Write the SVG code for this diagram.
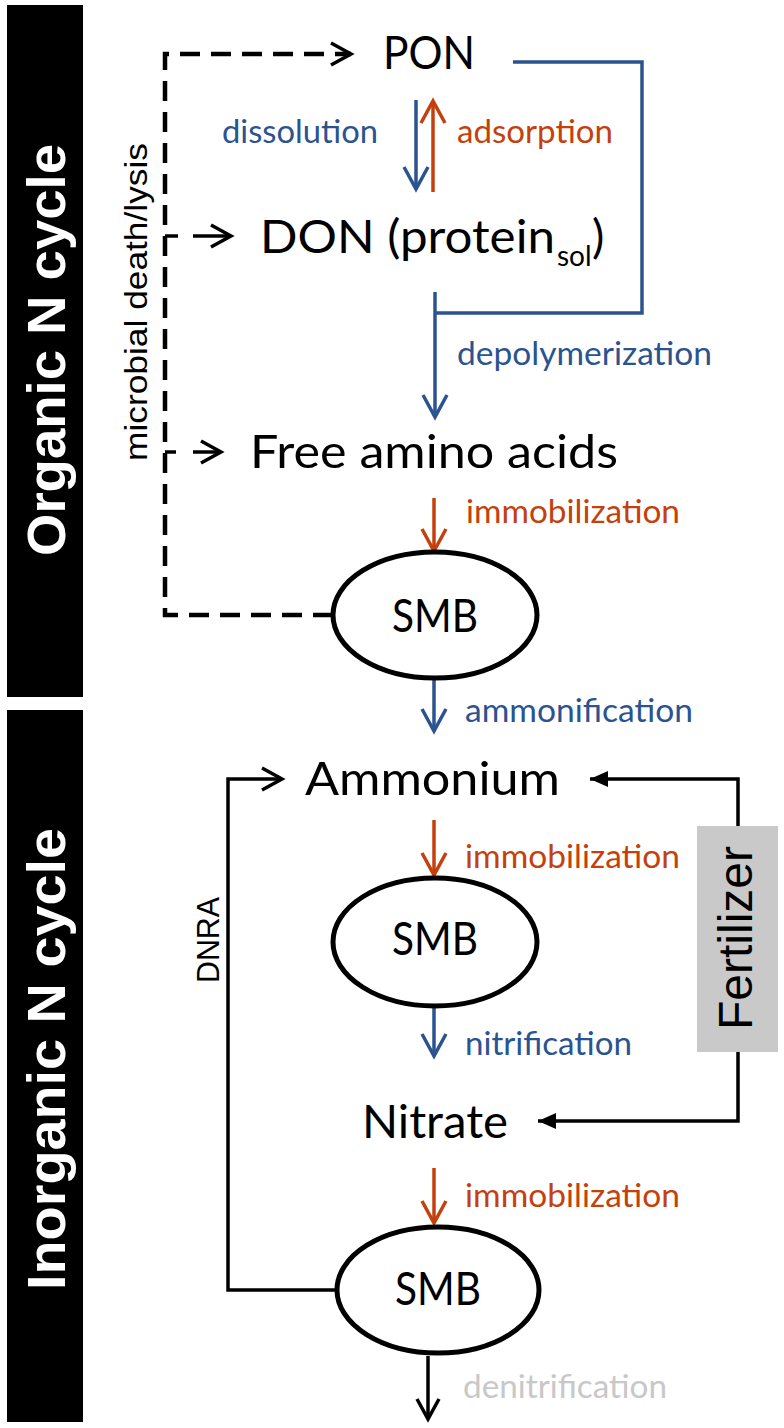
<svg xmlns="http://www.w3.org/2000/svg" width="784" height="1428" viewBox="0 0 784 1428">
<style>
.node{font-family:Lato,'Open Sans','Liberation Sans',sans-serif;font-size:46px;fill:#000}
.lbl{font-family:Lato,'Open Sans','Liberation Sans',sans-serif;font-size:33px}
.blue{fill:#2B5390}
.red{fill:#C4410E}
.gray{fill:#C8C8C8}
.side{font-family:'Liberation Sans',Arial,sans-serif;font-weight:bold;font-size:54px;fill:#fff}
.vert{font-family:'Liberation Sans',Arial,sans-serif;font-size:32px;fill:#000}
.ell{fill:#fff;stroke:#000;stroke-width:5}
.lb{fill:none;stroke:#2B5390;stroke-width:3.5}
.lr{fill:none;stroke:#C4410E;stroke-width:3.5}
.lk{fill:none;stroke:#000;stroke-width:3.5}
.dash{fill:none;stroke:#000;stroke-width:4.5;stroke-dasharray:20 11}
</style>
<defs>
<marker id="ab" viewBox="-26 -15 30 30" refX="0" refY="0" markerWidth="30" markerHeight="30" markerUnits="userSpaceOnUse" orient="auto">
<path d="M-22,-12 L0,0 L-22,12" fill="none" stroke="#2B5390" stroke-width="3.5"/>
</marker>
<marker id="ar" viewBox="-26 -15 30 30" refX="0" refY="0" markerWidth="30" markerHeight="30" markerUnits="userSpaceOnUse" orient="auto">
<path d="M-22,-12 L0,0 L-22,12" fill="none" stroke="#C4410E" stroke-width="3.5"/>
</marker>
<marker id="ak" viewBox="-26 -15 30 30" refX="0" refY="0" markerWidth="30" markerHeight="30" markerUnits="userSpaceOnUse" orient="auto">
<path d="M-20,-11 L0,0 L-20,11" fill="none" stroke="#000" stroke-width="3.5"/>
</marker>
<marker id="af" viewBox="-20 -10 22 20" refX="0" refY="0" markerWidth="22" markerHeight="20" markerUnits="userSpaceOnUse" orient="auto">
<path d="M-18,-8 L0,0 L-18,8 Z" fill="#000"/>
</marker>
</defs>

<g id="bar-organic">
<rect x="7" y="5" width="76" height="692" fill="#000"/>
<text class="side" transform="translate(65,350) rotate(-90)" text-anchor="middle" textLength="412" lengthAdjust="spacingAndGlyphs">Organic N cycle</text>
</g>
<g id="bar-inorganic">
<rect x="7" y="710" width="76" height="712" fill="#000"/>
<text class="side" transform="translate(65,1059) rotate(-90)" text-anchor="middle" textLength="462" lengthAdjust="spacingAndGlyphs">Inorganic N cycle</text>
</g>

<g id="connectors">
<path class="dash" d="M333,615 H165 V54 H351" marker-end="url(#ak)"/>
<path class="lk" d="M165,236 H178"/>
<path class="lk" d="M193,236 H231" marker-end="url(#ak)"/>
<path class="lk" d="M165,452 H176"/>
<path class="lk" d="M193,452 H221" marker-end="url(#ak)"/>
<path class="lb" d="M416,100 V189" marker-end="url(#ab)"/>
<path class="lr" d="M433,192 V101" marker-end="url(#ar)"/>
<path class="lb" d="M513,62 H642 V313 H435"/>
<path class="lb" d="M435,292 V417" marker-end="url(#ab)"/>
<path class="lr" d="M434,498 V551" marker-end="url(#ar)"/>
<path class="lb" d="M434,680 V731" marker-end="url(#ab)"/>
<path class="lr" d="M434,820 V875" marker-end="url(#ar)"/>
<path class="lb" d="M434,1006 V1056" marker-end="url(#ab)"/>
<path class="lr" d="M434,1168 V1223" marker-end="url(#ar)"/>
<path class="lk" d="M428,1356 V1419" marker-end="url(#ak)"/>
<path class="lk" d="M337,1290 H228 V779 H282" marker-end="url(#ak)"/>
<path class="lk" d="M738,826 V779 H590" stroke-width="3" marker-end="url(#af)"/>
<path class="lk" d="M738,1052 V1121 H538" stroke-width="3" marker-end="url(#af)"/>
<text class="vert" transform="translate(147,302) rotate(-90)" text-anchor="middle" textLength="318" lengthAdjust="spacingAndGlyphs">microbial death/lysis</text>
<text class="vert" transform="translate(219,940) rotate(-90)" text-anchor="middle" font-size="28" textLength="86" lengthAdjust="spacingAndGlyphs">DNRA</text>
<text class="lbl blue" x="222" y="143" textLength="156" lengthAdjust="spacingAndGlyphs">dissolution</text>
<text class="lbl red" x="457" y="143" textLength="156" lengthAdjust="spacingAndGlyphs">adsorption</text>
<text class="lbl blue" x="457" y="365" textLength="255" lengthAdjust="spacingAndGlyphs">depolymerization</text>
<text class="lbl red" x="466" y="523" textLength="214" lengthAdjust="spacingAndGlyphs">immobilization</text>
<text class="lbl blue" x="465" y="722" textLength="228" lengthAdjust="spacingAndGlyphs">ammonification</text>
<text class="lbl red" x="465" y="868" textLength="215" lengthAdjust="spacingAndGlyphs">immobilization</text>
<text class="lbl blue" x="465" y="1055" textLength="167" lengthAdjust="spacingAndGlyphs">nitrification</text>
<text class="lbl red" x="465" y="1207" textLength="215" lengthAdjust="spacingAndGlyphs">immobilization</text>
<text class="lbl gray" x="463" y="1398" textLength="204" lengthAdjust="spacingAndGlyphs">denitrification</text>
</g>

<g id="pon"><text class="node" x="383" y="69" textLength="92" lengthAdjust="spacingAndGlyphs">PON</text></g>
<g id="don"><text class="node" x="260" y="253"><tspan textLength="295" lengthAdjust="spacingAndGlyphs">DON (protein</tspan><tspan x="557" y="266" font-size="28">sol</tspan><tspan x="592" y="253">)</tspan></text></g>
<g id="faa"><text class="node" x="250" y="468" textLength="368" lengthAdjust="spacingAndGlyphs">Free amino acids</text></g>
<g id="smb1"><ellipse class="ell" cx="435" cy="615" rx="102" ry="63"/><text class="node" x="435" y="632" text-anchor="middle" font-size="42" textLength="86" lengthAdjust="spacingAndGlyphs">SMB</text></g>
<g id="ammonium"><text class="node" x="305" y="795" textLength="255" lengthAdjust="spacingAndGlyphs">Ammonium</text></g>
<g id="smb2"><ellipse class="ell" cx="435" cy="942" rx="102" ry="64"/><text class="node" x="435" y="955" text-anchor="middle" font-size="42" textLength="86" lengthAdjust="spacingAndGlyphs">SMB</text></g>
<g id="nitrate"><text class="node" x="362" y="1138" textLength="146" lengthAdjust="spacingAndGlyphs">Nitrate</text></g>
<g id="smb3"><ellipse class="ell" cx="438" cy="1290" rx="101" ry="63"/><text class="node" x="438" y="1305" text-anchor="middle" font-size="42" textLength="86" lengthAdjust="spacingAndGlyphs">SMB</text></g>
<g id="fertilizer"><rect x="697" y="826" width="81" height="226" fill="#C9C9C9"/><text transform="translate(752,938) rotate(-90)" text-anchor="middle" font-family="'Liberation Sans',Arial,sans-serif" font-size="48" fill="#000" textLength="184" lengthAdjust="spacingAndGlyphs">Fertilizer</text></g>
</svg>
